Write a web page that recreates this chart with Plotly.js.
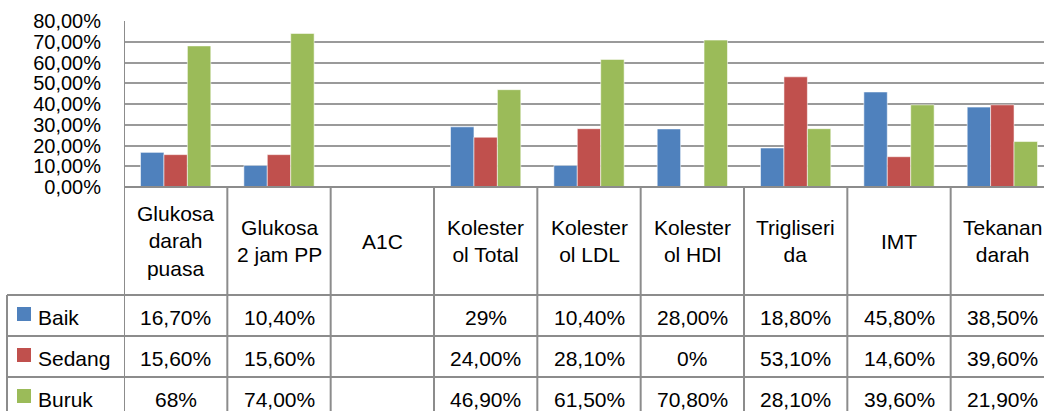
<!DOCTYPE html>
<html>
<head>
<meta charset="utf-8">
<script src="https://cdn.plot.ly/plotly-3.0.1.min.js"></script>
<style>
html,body{margin:0;padding:0;background:#fff;overflow:hidden;}
#chart{width:1060px;height:411px;}
</style>
</head>
<body>
<div id="chart"></div>
<script>
// ---- data ----
const categories = ["Glukosa darah puasa","Glukosa 2 jam PP","A1C","Kolesterol Total","Kolesterol LDL","Kolesterol HDl","Trigliserida","IMT","Tekanan darah"];
const categoryLabels = ["Glukosa<br>darah<br>puasa","Glukosa<br>2 jam PP","A1C","Kolester<br>ol Total","Kolester<br>ol LDL","Kolester<br>ol HDl","Trigliseri<br>da","IMT","Tekanan<br>darah"];
const seriesNames = ["Baik","Sedang","Buruk"];
const baik   = [0.167, 0.104, null, 0.29, 0.104, 0.28, 0.188, 0.458, 0.385];
const sedang = [0.156, 0.156, null, 0.24, 0.281, 0.0, 0.531, 0.146, 0.396];
const buruk  = [0.68, 0.74, null, 0.469, 0.615, 0.708, 0.281, 0.396, 0.219];
const baikLabels   = ["16,70%","10,40%","","29%","10,40%","28,00%","18,80%","45,80%","38,50%"];
const sedangLabels = ["15,60%","15,60%","","24,00%","28,10%","0%","53,10%","14,60%","39,60%"];
const burukLabels  = ["68%","74,00%","","46,90%","61,50%","70,80%","28,10%","39,60%","21,90%"];
const yTicks = [0,0.1,0.2,0.3,0.4,0.5,0.6,0.7,0.8];

// ---- style ----
const colors = ["#4F81BD","#C0504D","#9BBB59"];
const FONT = "Liberation Sans, Arial, sans-serif";
const FS = 21;
const W = 1060, H = 411;
const M = {l:124, r:6, t:21, b:224};
const PW = W - M.l - M.r, PH = H - M.t - M.b;
const px = x => (x - M.l) / PW;           // pixel x -> paper
const py = y => (H - M.b - y) / PH;       // pixel y -> paper
const lineColor = "#8c8c8c";

const seriesVals = [baik, sedang, buruk];
const seriesLabels = [baikLabels, sedangLabels, burukLabels];

const traces = seriesVals.map((vals, i) => ({
  type: "bar",
  name: seriesNames[i],
  x: categories,
  y: vals,
  marker: {color: colors[i], line: {color: "rgba(255,255,255,0.55)", width: 1}},
  hoverinfo: "skip"
}));

const shapes = [];
const annotations = [];

// table row geometry (pixels)
const headerBottom = 295;
const rowH = 41;
const rowCenters = [317, 358, 399];
const tableLeft = 7;

// vertical lines at category boundaries (through the x axis scale)
for (let i = 0; i <= categories.length; i++) {
  shapes.push({type:"line", xref:"x", yref:"paper", x0:i-0.5, x1:i-0.5,
    y0: i === 0 ? 1 : 0, y1: py(H + 5), line:{color:lineColor, width:2}});
}
// left border of legend column
shapes.push({type:"line", xref:"paper", yref:"paper", x0:px(tableLeft), x1:px(tableLeft),
  y0:py(headerBottom), y1:py(H+5), line:{color:lineColor, width:2}});
// horizontal row lines
for (let r = 0; r < 3; r++) {
  const yy = headerBottom + r*rowH;
  shapes.push({type:"line", xref:"paper", yref:"paper", x0:px(tableLeft), x1:1.05,
    y0:py(yy), y1:py(yy), line:{color:lineColor, width:2}});
}
// header labels
categories.forEach((c, i) => {
  annotations.push({xref:"x", yref:"paper", x:c, y:py(241), text:categoryLabels[i],
    showarrow:false, xanchor:"center", yanchor:"middle", align:"center",
    font:{family:FONT, size:FS, color:"#000"}});
});
// legend keys + row values
seriesNames.forEach((name, r) => {
  const cy = rowCenters[r];
  shapes.push({type:"rect", xref:"paper", yref:"paper", x0:px(17), x1:px(31),
    y0:py(cy-10), y1:py(cy+4), fillcolor:colors[r], line:{width:0}});
  annotations.push({xref:"paper", yref:"paper", x:px(36), y:py(cy), text:name,
    showarrow:false, xanchor:"left", yanchor:"middle",
    font:{family:FONT, size:FS, color:"#000"}});
  categories.forEach((c, i) => {
    const t = seriesLabels[r][i];
    if (!t) return;
    annotations.push({xref:"x", yref:"paper", x:c, y:py(cy), text:t,
      showarrow:false, xanchor:"center", yanchor:"middle",
      font:{family:FONT, size:FS, color:"#000"}});
  });
});

const layout = {
  width: W, height: H,
  margin: M,
  paper_bgcolor: "#fff", plot_bgcolor: "#fff",
  separators: ",.",
  barmode: "group",
  bargap: 0.32,
  bargroupgap: 0,
  showlegend: false,
  font: {family: FONT, size: FS, color: "#000"},
  xaxis: {type:"category", range:[-0.5, categories.length-0.5], showticklabels:false,
    ticks:"", showgrid:false, zeroline:false, showline:false, fixedrange:true},
  yaxis: {range:[0, 0.8], tickvals:yTicks, tickformat:".2%", showgrid:true,
    gridcolor:"#9a9a9a", gridwidth:2, zeroline:false, showline:false,
    ticks:"", ticklabelstandoff:22, tickfont:{family:FONT, size:20, color:"#000"}, fixedrange:true},
  shapes: shapes.concat([
    {type:"line", xref:"paper", yref:"paper", x0:0, x1:1.05, y0:0, y1:0, line:{color:lineColor, width:2}}
  ]),
  annotations: annotations
};

Plotly.newPlot("chart", traces, layout, {displayModeBar:false, staticPlot:true});
</script>
</body>
</html>
